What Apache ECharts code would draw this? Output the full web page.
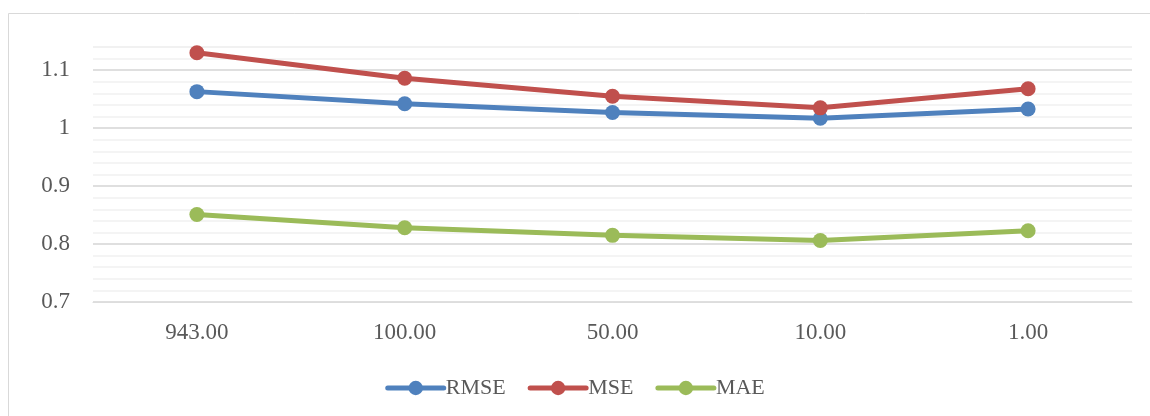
<!DOCTYPE html>
<html>
<head>
<meta charset="utf-8">
<script src="https://cdn.jsdelivr.net/npm/echarts@6/dist/echarts.min.js"></script>
<style>
  html, body { margin: 0; padding: 0; background: #ffffff; }
  #chart { width: 1150px; height: 416px; }
</style>
</head>
<body>
<div id="chart"></div>
<script>
// Categories along the horizontal axis
const categories = ['943.00', '100.00', '50.00', '10.00', '1.00'];

// Error metrics per category
const rmse = [1.063, 1.042, 1.027, 1.017, 1.033];
const mse  = [1.130, 1.086, 1.055, 1.035, 1.068];
const mae  = [0.851, 0.828, 0.815, 0.806, 0.823];

const seriesNames = ['RMSE', 'MSE', 'MAE'];
const seriesColors = ['#4F81BD', '#C0504D', '#9BBB59'];
const seriesData = [rmse, mse, mae];

const textColor = '#595959';
const fontFamily = '"Liberation Serif", "DejaVu Serif", serif';
const fontSize = 23;

const chart = echarts.init(document.getElementById('chart'), null, { renderer: 'canvas' });

const option = {
  backgroundColor: '#ffffff',
  animation: false,
  graphic: [{
    type: 'rect',
    shape: { x: 8.5, y: 13.5, width: 1160, height: 420 },
    style: { fill: 'none', stroke: '#d9d9d9', lineWidth: 1 },
    silent: true,
    z: -10
  }],
  grid: { left: 93, right: 18, top: 47, bottom: 114, containLabel: false },
  legend: {
    data: seriesNames,
    bottom: 12,
    left: 'center',
    itemWidth: 56,
    itemHeight: 18,
    itemGap: 22,
    lineStyle: { width: 5 },
    textStyle: { color: textColor, fontFamily: fontFamily, fontSize: 22, padding: [0, 0, 0, -3] }
  },
  xAxis: {
    type: 'category',
    data: categories,
    boundaryGap: true,
    axisLine: { show: true, lineStyle: { color: '#d9d9d9', width: 1 } },
    axisTick: { show: false },
    axisLabel: { color: textColor, fontFamily: fontFamily, fontSize: fontSize, margin: 19 },
    splitLine: { show: false }
  },
  yAxis: [
    {
      type: 'value',
      min: 0.7,
      max: 1.14,
      interval: 0.1,
      axisLine: { show: false },
      axisTick: { show: false },
      axisLabel: {
        color: textColor, fontFamily: fontFamily, fontSize: fontSize, margin: 23,
        showMaxLabel: false,
        formatter: v => String(Math.round(v * 10) / 10)
      },
      splitLine: {
        show: true,
        lineStyle: { color: ['#d9d9d9', '#d9d9d9', '#d9d9d9', '#d9d9d9', '#d9d9d9', '#f0f0f0'], width: 1.5 }
      },
      z: 2
    },
    {
      type: 'value',
      min: 0.7,
      max: 1.14,
      interval: 0.02,
      axisLine: { show: false },
      axisTick: { show: false },
      axisLabel: { show: false },
      splitLine: { show: true, lineStyle: { color: '#f0f0f0', width: 1.5 } },
      z: 1
    }
  ],
  series: seriesNames.map((name, i) => ({
    name: name,
    type: 'line',
    yAxisIndex: 0,
    data: seriesData[i],
    symbol: 'circle',
    symbolSize: 15,
    lineStyle: { color: seriesColors[i], width: 5, cap: 'round' },
    itemStyle: { color: seriesColors[i] },
    z: 10
  }))
};

chart.setOption(option);
</script>
</body>
</html>
